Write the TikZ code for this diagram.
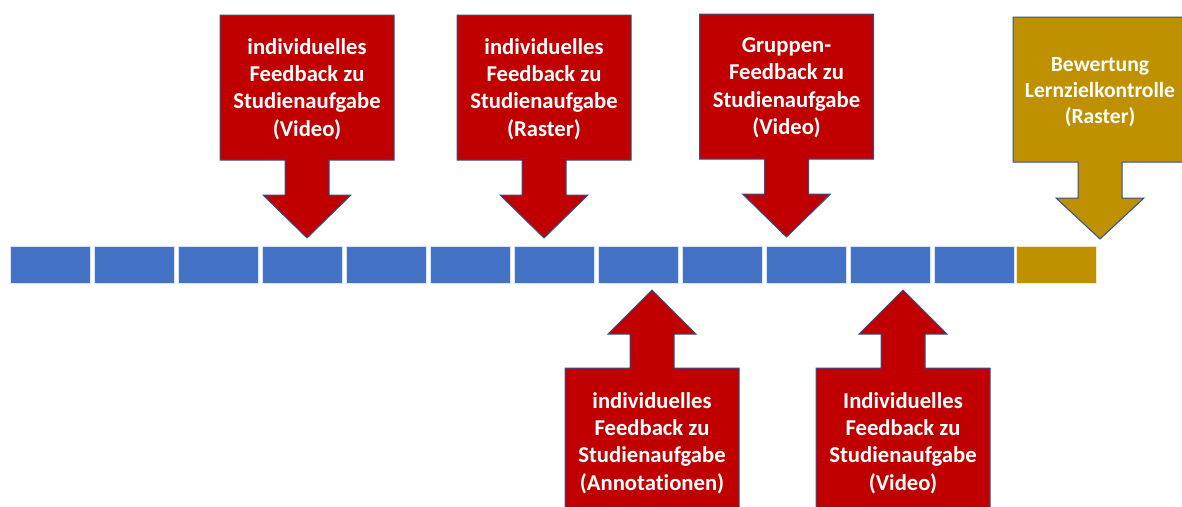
\documentclass[tikz,border=0pt]{standalone}
\usepackage{fontspec}
\setmainfont{Carlito}[Ligatures=NoCommon]
\definecolor{SegBlue}{HTML}{4472C4}
\definecolor{FbRed}{HTML}{C00000}
\definecolor{FbGold}{HTML}{BF9000}
\definecolor{EdgeBlue}{HTML}{2F528F}

\begin{document}
\begin{tikzpicture}[x=0.75pt,y=0.75pt,yscale=-1,xscale=1,
	seg/.style={fill=SegBlue, draw=white!80!SegBlue, line width=0.4pt, minimum width=60pt, minimum height=27.75pt, inner sep=0pt, anchor=north west},
	fbbox/.style={draw=EdgeBlue, line width=0.75pt, line join=miter},
	fbtext/.style={text=white, align=center, inner sep=0pt, font=\fontsize{17}{20.6}\selectfont\bfseries}]
		% Set diagram size: 1182 x 507
		\clip (0,0) rectangle (1182,507);

		% The time line: twelve blue weeks and one gold week
		\foreach \k in {0,...,11}
			\node[seg] (seg\k) at (10+84*\k,246) {};
		\node[seg, fill=FbGold, draw=white!80!FbGold] (seg12) at (1016,246) {};

		% Callouts from above (pointing down)
		\draw[fbbox, fill=FbRed, shift={(307,0)}]
		(-87,15) -- (87,15) -- (87,160) -- (22,160) -- (22,195) -- (44,195) -- (0,238) -- (-44,195) -- (-22,195) -- (-22,160) -- (-87,160) -- cycle;
		\draw[fbbox, fill=FbRed, shift={(544,0)}]
		(-87,15) -- (87,15) -- (87,160) -- (22,160) -- (22,195) -- (44,195) -- (0,238) -- (-44,195) -- (-22,195) -- (-22,160) -- (-87,160) -- cycle;
		\draw[fbbox, fill=FbRed, shift={(786.5,0)}]
		(-87,14) -- (87,14) -- (87,159) -- (22,159) -- (22,194) -- (44,194) -- (0,237) -- (-44,194) -- (-22,194) -- (-22,159) -- (-87,159) -- cycle;
		\draw[fbbox, fill=FbGold, shift={(1100,0)}]
		(-87,17) -- (87,17) -- (87,162) -- (22,162) -- (22,198) -- (44,198) -- (0,239) -- (-44,198) -- (-22,198) -- (-22,162) -- (-87,162) -- cycle;

		% Callouts from below (pointing up)
		\draw[fbbox, fill=FbRed, shift={(652,0)}]
		(0,290) -- (44,334) -- (22,334) -- (22,368) -- (87,368) -- (87,515) -- (-87,515) -- (-87,368) -- (-22,368) -- (-22,334) -- (-44,334) -- cycle;
		\draw[fbbox, fill=FbRed, shift={(903,0)}]
		(0,290) -- (44,334) -- (22,334) -- (22,368) -- (87,368) -- (87,515) -- (-87,515) -- (-87,368) -- (-22,368) -- (-22,334) -- (-44,334) -- cycle;

		% The texts in the callouts
		\node[fbtext] (fbVideo) at (307,89) {individuelles\\Feedback zu\\Studienaufgabe\\(Video)};
		\node[fbtext] (fbRaster) at (544,89) {individuelles\\Feedback zu\\Studienaufgabe\\(Raster)};
		\node[fbtext] (fbGruppe) at (786.5,88) {Gruppen-\\Feedback zu\\Studienaufgabe\\(Video)};
		\node[fbtext, font=\fontsize{16.2}{19.6}\selectfont\bfseries] (lzk) at (1100,92) {Bewertung\\Lernzielkontrolle\\(Raster)};
		\node[fbtext] (fbAnnot) at (652,443) {individuelles\\Feedback zu\\Studienaufgabe\\(Annotationen)};
		\node[fbtext] (fbVideoB) at (903,443) {Individuelles\\Feedback zu\\Studienaufgabe\\(Video)};
	\end{tikzpicture}
\end{document}
